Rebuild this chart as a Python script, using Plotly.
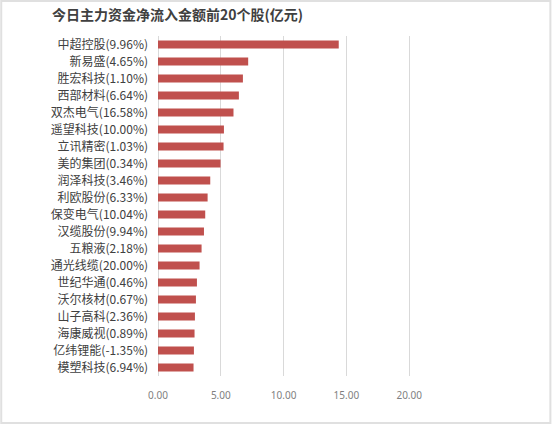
import plotly.graph_objects as go

# 个股名称(涨跌幅) and 主力净流入 (亿元)
stocks = ["中超控股(9.96%)", "新易盛(4.65%)", "胜宏科技(1.10%)", "西部材料(6.64%)",
          "双杰电气(16.58%)", "遥望科技(10.00%)", "立讯精密(1.03%)", "美的集团(0.34%)",
          "润泽科技(3.46%)", "利欧股份(6.33%)", "保变电气(10.04%)", "汉缆股份(9.94%)",
          "五粮液(2.18%)", "通光线缆(20.00%)", "世纪华通(0.46%)", "沃尔核材(0.67%)",
          "山子高科(2.36%)", "海康威视(0.89%)", "亿纬锂能(-1.35%)", "模塑科技(6.94%)"]
inflow = [14.39, 7.18, 6.76, 6.44, 6.01, 5.25, 5.22, 4.98, 4.16, 3.95,
          3.76, 3.66, 3.47, 3.31, 3.10, 3.02, 2.94, 2.91, 2.86, 2.83]
x_ticks = [0, 5, 10, 15, 20]
x_labels = ["0.00", "5.00", "10.00", "15.00", "20.00"]

fig = go.Figure(go.Bar(
    x=inflow, y=stocks, orientation="h",
    marker=dict(color="#c0504d", line=dict(width=0)),
    width=0.47,
))

fig.update_layout(
    width=554, height=425,
    margin=dict(l=158, r=81.5, t=36, b=49, autoexpand=False),
    paper_bgcolor="white", plot_bgcolor="white",
    showlegend=False,
    font=dict(family="Noto Sans CJK SC", color="#404040"),
    title=dict(text="<b>今日主力资金净流入金额前20个股(亿元)</b>",
               x=52 / 554, xanchor="left", y=1 - 15 / 425, yanchor="middle",
               font=dict(size=14, color="#404040", family="Noto Sans CJK SC")),
    xaxis=dict(range=[0, 25], tickvals=x_ticks, ticktext=x_labels,
               automargin=False,
               showgrid=True, gridcolor="#d9d9d9", gridwidth=1,
               zeroline=True, zerolinecolor="#d9d9d9", zerolinewidth=1,
               showline=False, ticks="", ticklabelstandoff=12,
               tickfont=dict(size=10, color="#7f7f7f", family="Noto Sans")),
    yaxis=dict(autorange="reversed", showgrid=False, showline=False, ticks="",
               automargin=False, ticklabelstandoff=9,
               tickfont=dict(size=12, color="#404040", family="Noto Sans CJK SC")),
    bargap=0.5,
)

# light frame around the chart
fig.add_shape(type="rect", xref="paper", yref="paper",
              x0=-157 / 314.5, x1=(551 - 158) / 314.5,
              y0=(376 - 423) / 340, y1=(376 - 1) / 340,
              line=dict(color="#e0e0e0", width=2), layer="below")

# drop the browser's default page margin so the chart sits at the top-left corner
fig.write_html("out.html", config={"displayModeBar": False},
               post_script="document.body.style.margin='0';")
